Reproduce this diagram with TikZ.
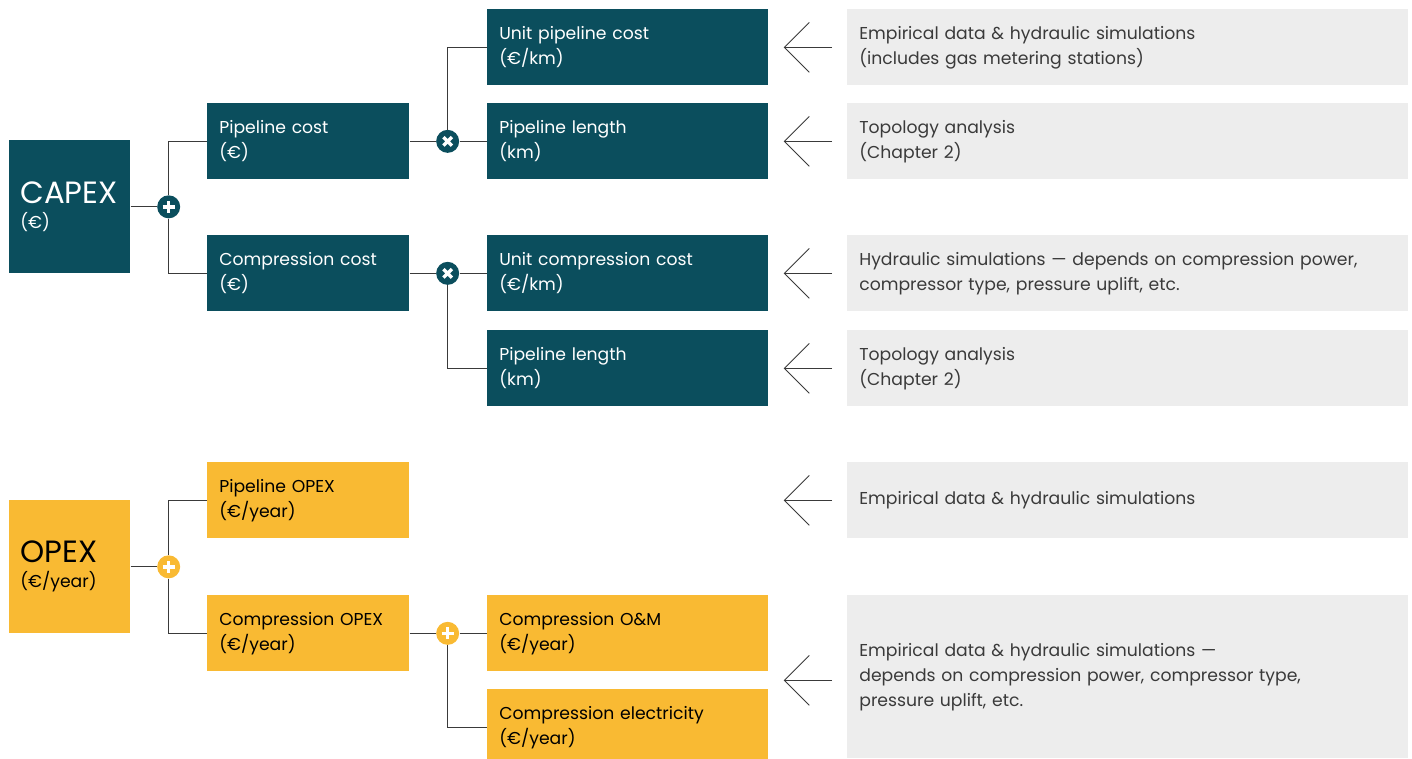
\documentclass[tikz,border=0pt]{standalone}
\usepackage{fontspec}
\setmainfont{Poppins}
\usetikzlibrary{arrows.meta, positioning, calc}

\definecolor{capexteal}{HTML}{0B4E5D}
\definecolor{opexgold}{HTML}{F9BA33}
\definecolor{notegrey}{HTML}{EDEDED}
\definecolor{inkgrey}{HTML}{3A3A3A}

\begin{document}
\begin{tikzpicture}[
  x=0.02cm, y=-0.02cm,
  every node/.style = {font=\fontsize{9.8pt}{14.2pt}\selectfont},
  root/.style = {rectangle, anchor=north west, minimum width=2.42cm, minimum height=2.66cm, text width=1.98cm, inner xsep=0.22cm, align=left},
  midbox/.style = {rectangle, anchor=north west, minimum height=1.52cm, text width=3.56cm, inner xsep=0.24cm, align=left},
  leafbox/.style = {rectangle, anchor=north west, minimum height=1.52cm, text width=5.14cm, inner xsep=0.24cm, align=left},
  notebox/.style = {rectangle, anchor=north west, fill=notegrey, text=inkgrey, minimum height=1.52cm, text width=10.74cm, inner xsep=0.24cm, align=left},
  capex/.style = {fill=capexteal, text=white},
  opex/.style = {fill=opexgold, text=black},
  link/.style = {draw=inkgrey, line width=0.6pt},
  source/.style = {draw=inkgrey, line width=0.55pt, -{Straight Barb[length=0.5cm, width=1cm]}, shorten >=0.3cm, shorten <=0.3cm},
  sumop/.style = {circle, minimum size=0.46cm, inner sep=0pt, path picture={
      \draw[white, line width=1.9pt]
        ([xshift=-0.12cm]path picture bounding box.center) -- ([xshift=0.12cm]path picture bounding box.center)
        ([yshift=-0.12cm]path picture bounding box.center) -- ([yshift=0.12cm]path picture bounding box.center);}},
  prodop/.style = {circle, minimum size=0.46cm, inner sep=0pt, fill=capexteal, path picture={
      \draw[white, line width=1.9pt]
        ([shift={(-0.085cm,-0.085cm)}]path picture bounding box.center) -- ([shift={(0.085cm,0.085cm)}]path picture bounding box.center)
        ([shift={(-0.085cm,0.085cm)}]path picture bounding box.center) -- ([shift={(0.085cm,-0.085cm)}]path picture bounding box.center);}}
]

\clip (0,0) rectangle (1412,758);

% CAPEX tree
\node[root, capex] (capex) at (9,140) {{\fontsize{17.5pt}{19pt}\selectfont CAPEX}\\(€)};
\node[midbox, capex] (pc) at (207,103) {Pipeline cost\\(€)};
\node[midbox, capex] (cc) at (207,235) {Compression cost\\(€)};
\node[leafbox, capex] (upc) at (487,9) {Unit pipeline cost\\(€/km)};
\node[leafbox, capex] (pl1) at (487,103) {Pipeline length\\(km)};
\node[leafbox, capex] (ucc) at (487,235) {Unit compression cost\\(€/km)};
\node[leafbox, capex] (pl2) at (487,330) {Pipeline length\\(km)};

% OPEX tree
\node[root, opex] (opex) at (9,500) {{\fontsize{17.5pt}{19pt}\selectfont OPEX}\\(€/year)};
\node[midbox, opex] (po) at (207,462) {Pipeline OPEX\\(€/year)};
\node[midbox, opex] (co) at (207,595) {Compression OPEX\\(€/year)};
\node[leafbox, opex] (om) at (487,595) {Compression O\&M\\(€/year)};
\node[leafbox, opex] (el) at (487,689) {Compression electricity\\(€/year)};

% Sources
\node[notebox] (n1) at (847,9) {Empirical data \& hydraulic simulations\\(includes gas metering stations)};
\node[notebox] (n2) at (847,103) {Topology analysis\\(Chapter 2)};
\node[notebox] (n3) at (847,235) {Hydraulic simulations — depends on compression power,\\compressor type, pressure uplift, etc.};
\node[notebox] (n4) at (847,330) {Topology analysis\\(Chapter 2)};
\node[notebox] (n5) at (847,462) {Empirical data \& hydraulic simulations};
\node[notebox, minimum height=3.26cm] (n6) at (847,595) {Empirical data \& hydraulic simulations —\\depends on compression power, compressor type,\\pressure uplift, etc.};

% Operators
\node[sumop, fill=capexteal] (s1) at ($(capex.east)+(38,0)$) {};
\node[prodop] (x1) at ($(pc.east)+(38,0)$) {};
\node[prodop] (x2) at ($(cc.east)+(38,0)$) {};
\node[sumop, fill=opexgold] (s2) at ($(opex.east)+(38,0)$) {};
\node[sumop, fill=opexgold] (s3) at ($(co.east)+(38,0)$) {};

% Links
\draw[link] (capex.east) -- (s1);
\draw[link] (s1) |- (pc.west);
\draw[link] (s1) |- (cc.west);
\draw[link] (pc.east) -- (x1) -- (pl1.west);
\draw[link] (x1) |- (upc.west);
\draw[link] (cc.east) -- (x2) -- (ucc.west);
\draw[link] (x2) |- (pl2.west);
\draw[link] (opex.east) -- (s2);
\draw[link] (s2) |- (po.west);
\draw[link] (s2) |- (co.west);
\draw[link] (co.east) -- (s3) -- (om.west);
\draw[link] (s3) |- (el.west);

% Source arrows
\coordinate (pogap) at (n5.west -| upc.east);
\coordinate (omgap) at ($(om.south east)!0.5!(el.north east)$);
\draw[source] (n1.west) -- (upc.east);
\draw[source] (n2.west) -- (pl1.east);
\draw[source] (n3.west) -- (ucc.east);
\draw[source] (n4.west) -- (pl2.east);
\draw[source] (n5.west) -- (pogap);
\draw[source] (n6.west |- omgap) -- (omgap);

\end{tikzpicture}
\end{document}
